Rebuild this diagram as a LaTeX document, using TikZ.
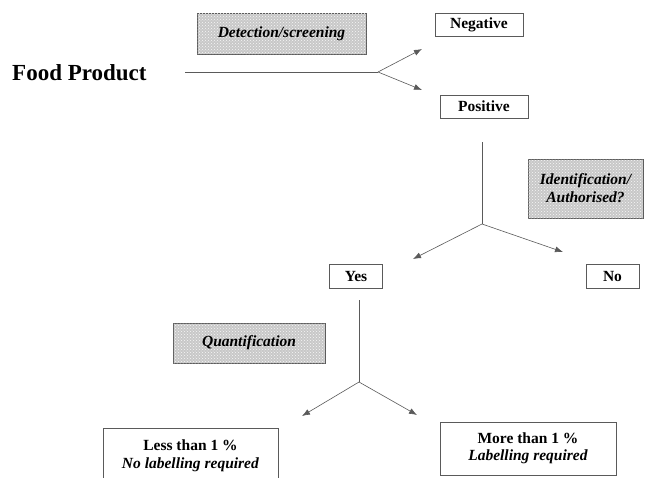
\documentclass[tikz,border=0pt]{standalone}
\usepackage{fontspec}
\setmainfont{Liberation Serif}
\usetikzlibrary{arrows.meta,patterns}
\definecolor{linegray}{RGB}{90,90,90}
\definecolor{boxfill}{RGB}{200,200,200}
\tikzset{
  whitebox/.style={draw=linegray, line width=0.6pt, fill=white, inner sep=0pt, align=center, font=\fontsize{15.5}{17}\selectfont\bfseries},
  graybox/.style={draw=linegray, line width=0.6pt, fill=boxfill, postaction={pattern=crosshatch dots, pattern color=white!85!boxfill}, inner sep=0pt, align=center, font=\fontsize{15.5}{18}\selectfont\bfseries\itshape},
  conn/.style={draw=linegray, line width=0.6pt},
  arr/.style={conn, -{Latex[length=8pt,width=6pt]}}
}
\begin{document}
\begin{tikzpicture}[x=1pt,y=-1pt]
\clip (0,0) rectangle (653,477);
\fill[white] (0,0) rectangle (653,477);
% title
\node[font=\fontsize{23}{26}\selectfont\bfseries, inner sep=0pt, anchor=west] (food) at (12,73) {Food Product};
% process labels
\node[graybox, minimum width=169pt, minimum height=41pt] (detect) at (281.5,33.5) {Detection/screening};
\node[graybox, minimum width=115pt, minimum height=59pt] (ident) at (585.5,188.5) {Identification/\\Authorised?};
\node[graybox, minimum width=152pt, minimum height=40pt] (quant) at (249,343) {Quantification};
% result boxes
\node[whitebox, minimum width=88pt, minimum height=23pt] (neg) at (479,24.5) {Negative};
\node[whitebox, minimum width=88pt, minimum height=23pt] (pos) at (484,106.5) {Positive};
\node[whitebox, minimum width=53pt, minimum height=24pt] (yes) at (356,276) {Yes};
\node[whitebox, minimum width=53pt, minimum height=24pt] (no) at (612.5,276) {No};
\node[whitebox, minimum width=175pt, minimum height=70pt, anchor=north] (less) at (190.5,428) {};
\node[inner sep=0pt, align=center, font=\fontsize{15.5}{18}\selectfont] (lesstxt) at (190.5,456) {\textbf{Less than 1 \%}\\\textbf{\itshape No labelling required}};
\node[whitebox, minimum width=176pt, minimum height=53pt, align=center] (more) at (528,448.5) {\textbf{More than 1 \%}\\\textbf{\itshape Labelling required}};
% connector coordinates
\coordinate (s1) at (185,72);
\coordinate (j1) at (378,72);
\coordinate (tneg) at (422,49);
\coordinate (tpos) at (422,90);
\coordinate (s2) at (482,142);
\coordinate (j2) at (482,224);
\coordinate (tyes) at (413,259);
\coordinate (tno) at (563,252);
\coordinate (s3) at (359,300);
\coordinate (j3) at (359,382);
\coordinate (tless) at (302,416);
\coordinate (tmore) at (417,415);
% connectors
\draw[conn] (s1) -- (j1);
\draw[arr] (j1) -- (tneg);
\draw[arr] (j1) -- (tpos);
\draw[conn] (s2) -- (j2);
\draw[arr] (j2) -- (tyes);
\draw[arr] (j2) -- (tno);
\draw[conn] (s3) -- (j3);
\draw[arr] (j3) -- (tless);
\draw[arr] (j3) -- (tmore);
\end{tikzpicture}
\end{document}
